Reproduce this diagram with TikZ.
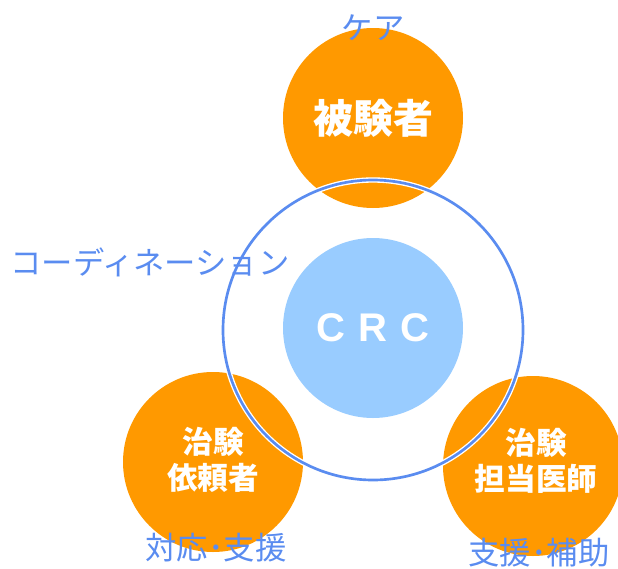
\documentclass[tikz,border=0pt]{standalone}
\usepackage{fontspec}
\newfontfamily\jp{Noto Sans CJK JP}
\setsansfont{Liberation Sans}
\definecolor{orng}{HTML}{FF9900}
\definecolor{lblue}{HTML}{99CCFF}
\definecolor{rblue}{HTML}{5A8CF0}
\begin{document}
\begin{tikzpicture}[x=0.75pt,y=-0.75pt,
  party/.style={circle, fill=orng, minimum size=135pt, inner sep=0pt},
  ptext/.style={text=white, font=\jp\bfseries\fontsize{23}{27}\selectfont, align=center},
  lbl/.style={text=rblue, font=\jp\fontsize{23.5}{26}\selectfont, inner sep=0pt}]
\useasboundingbox (0,0) rectangle (618,568);
\node[party] (subj) at (373,118) {};
\node[party] (spon) at (213,462) {};
\node[party] (doc) at (533,466) {};
\node[circle, fill=lblue, minimum size=135pt, inner sep=0pt] (crc) at (373,328) {};
\node[circle, draw=white, line width=4pt, minimum size=225pt, inner sep=0pt] (ringw) at (373,330) {};
\node[circle, draw=rblue, line width=2pt, minimum size=225pt, inner sep=0pt] (ring) at (373,330) {};
\node[ptext, font=\jp\bfseries\fontsize{30}{32}\selectfont] (subjt) at (subj) {被験者};
\node[ptext] (spont) at (213,460) {治験\\依頼者};
\node[ptext] (doct) at (536,461) {治験\\担当医師};
\node[text=white, font=\sffamily\bfseries\fontsize{30}{32}\selectfont] (crct) at (crc) {C\hspace{0.32em}R\hspace{0.32em}C};
\node[lbl] (care) at (373,28) {ケア};
\node[lbl] (coord) at (150,262) {コーディネーション};
\node[lbl] (supp) at (216,548) {対応･支援};
\node[lbl] (help) at (539,553) {支援･補助};
\end{tikzpicture}
\end{document}
